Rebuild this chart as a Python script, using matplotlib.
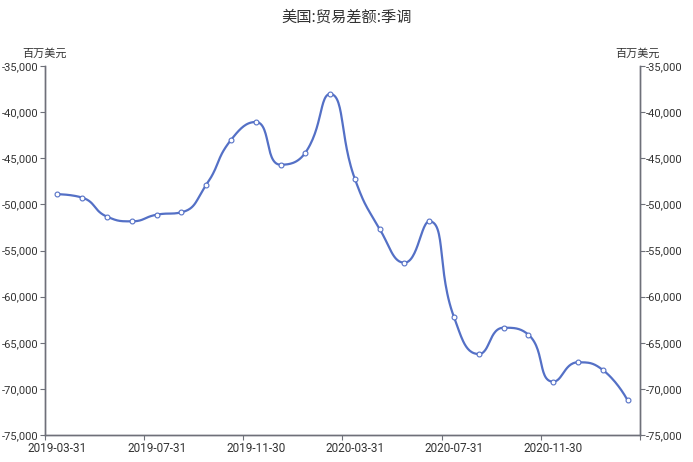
import numpy as np
import matplotlib
matplotlib.use("Agg")
import matplotlib.pyplot as plt
from matplotlib.ticker import FuncFormatter

# Roboto for digits, CJK family takes the Chinese glyphs
plt.rcParams['font.family'] = ['Roboto', 'Noto Sans CJK SC', 'DejaVu Sans']

# monthly trade balance, seasonally adjusted (million USD)
dates = ['2019-03-31', '2019-04-30', '2019-05-31', '2019-06-30', '2019-07-31', '2019-08-31',
         '2019-09-30', '2019-10-31', '2019-11-30', '2019-12-31', '2020-01-31', '2020-02-29',
         '2020-03-31', '2020-04-30', '2020-05-31', '2020-06-30', '2020-07-31', '2020-08-31',
         '2020-09-30', '2020-10-31', '2020-11-30', '2020-12-31', '2021-01-31', '2021-02-28']
balance = [-48900, -49270, -51330, -51840, -51120, -50860,
           -47900, -43020, -41070, -45700, -44400, -38040,
           -47250, -52670, -56320, -51840, -62240, -66220,
           -63370, -64130, -69220, -67120, -67950, -71240]

title = '美国:贸易差额:季调'
unit = '百万美元'
y_ticks = [-75000, -70000, -65000, -60000, -55000, -50000, -45000, -40000, -35000]
label_every = 4

line_color = '#5470c6'
text_color = '#333333'
axis_color = '#6e7079'
cjk_font = ['Noto Sans CJK SC', 'DejaVu Sans']


def smooth_curve(xs, ys, sx, sy, smooth=0.5, steps=30):
    """bezier smoothing with clamped control points (no overshoot), in pixel space"""
    p = np.column_stack([np.asarray(xs, float) * sx, np.asarray(ys, float) * sy])
    n = len(p)
    c_in = p.copy()
    c_out = p.copy()
    for i in range(1, n - 1):
        prev, cur, nxt = p[i - 1], p[i], p[i + 1]
        len_prev = np.hypot(*(cur - prev))
        len_next = np.hypot(*(nxt - cur))
        ratio = len_next / (len_next + len_prev)
        nc = cur + (nxt - prev) * smooth * ratio
        nc = np.clip(nc, np.minimum(nxt, cur), np.maximum(nxt, cur))
        v = nc - cur
        pc = cur - v * len_prev / len_next
        pc = np.clip(pc, np.minimum(prev, cur), np.maximum(prev, cur))
        v = cur - pc
        nc = cur + v * len_next / len_prev
        c_in[i] = pc
        c_out[i] = nc
    t = np.linspace(0, 1, steps)[1:, None]
    pts = [p[:1]]
    for i in range(n - 1):
        p0, p1, p2, p3 = p[i], c_out[i], c_in[i + 1], p[i + 1]
        b = (1 - t) ** 3 * p0 + 3 * (1 - t) ** 2 * t * p1 + 3 * (1 - t) * t ** 2 * p2 + t ** 3 * p3
        pts.append(b)
    pts = np.vstack(pts)
    return pts[:, 0] / sx, pts[:, 1] / sy


fig = plt.figure(figsize=(6.93, 4.62), dpi=100)
ax = fig.add_axes([45 / 693, 1 - 435 / 462, 595 / 693, 369 / 462])

idx = np.arange(len(dates))
# pixel scales: 25 px per category, ~9.225 px per 1000
cx, cy = smooth_curve(idx, balance, 25.0, 9.225 / 1000)
ax.plot(cx, cy, color=line_color, lw=1.6, zorder=2)
ax.plot(idx, balance, 'o', ms=3.5, mfc='white', mec=line_color, mew=0.8, zorder=3)

ax.set_xlim(-0.5, len(dates) - 0.5)
ax.set_ylim(y_ticks[0], y_ticks[-1])

fmt = FuncFormatter(lambda v, p: f'{v:,.0f}')
ax.set_yticks(y_ticks)
ax.yaxis.set_major_formatter(fmt)

# ticks at category boundaries, labels at category centers
ax.set_xticks(np.arange(-0.5, len(dates), label_every))
ax.set_xticklabels([])
ax.set_xticks(idx[::label_every], [dates[i] for i in idx[::label_every]], minor=True)
ax.tick_params(axis='x', which='major', length=3.5, color=axis_color)
ax.tick_params(axis='x', which='minor', length=0, pad=5, labelsize=8.5, labelcolor=text_color)
ax.tick_params(axis='y', length=3.5, color=axis_color, labelsize=8, labelcolor=text_color, pad=1)

ax2 = ax.twinx()
ax2.set_ylim(ax.get_ylim())
ax2.set_yticks(y_ticks)
ax2.yaxis.set_major_formatter(fmt)
ax2.tick_params(axis='y', length=3.5, color=axis_color, labelsize=8, labelcolor=text_color, pad=1)

for a in (ax, ax2):
    a.spines['top'].set_visible(False)
    for s in ('left', 'right', 'bottom'):
        a.spines[s].set_color(axis_color)
        a.spines[s].set_linewidth(1)

fig.text(0.5, 1 - 17 / 462, title, ha='center', va='center', fontsize=11,
         color=text_color, family=cjk_font)
fig.text(45 / 693, 1 - 54 / 462, unit, ha='center', va='center', fontsize=8,
         color=text_color, family=cjk_font)
fig.text(638 / 693, 1 - 54 / 462, unit, ha='center', va='center', fontsize=8,
         color=text_color, family=cjk_font)

fig.savefig('out.png', dpi=100)
